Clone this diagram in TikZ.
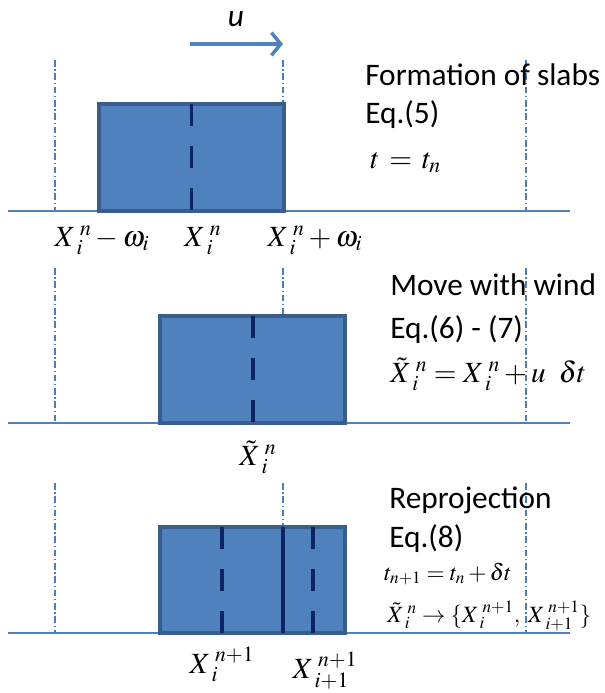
\documentclass[tikz,border=0pt]{standalone}
\usepackage{mathptmx}
\usepackage[no-math]{fontspec}
\setmainfont{Carlito}
\usetikzlibrary{arrows.meta}
\definecolor{boxfill}{HTML}{4F81BD}
\definecolor{boxedge}{HTML}{3A5E8C}
\definecolor{navy}{HTML}{0C2461}
\definecolor{lineblue}{HTML}{4F81BD}
\definecolor{guideblue}{HTML}{4A7EC1}
\newcommand{\Xsc}[3]{#1^{\mkern4mu #2}_{\mkern4mu #3}}
\begin{document}
\begin{tikzpicture}[x=0.75pt,y=-0.75pt,
  slab/.style={draw=boxedge, fill=boxfill, line width=2.6pt},
  midline/.style={draw=navy, line width=2.8pt, dash pattern=on 16.5pt off 15pt},
  midsolid/.style={draw=navy, line width=2.8pt},
  ground/.style={draw=lineblue, line width=1.2pt},
  guide/.style={draw=guideblue, line width=1pt, dash pattern=on 5pt off 2pt on 1pt off 2pt},
  windarrow/.style={draw=lineblue, line width=2.6pt, -{Straight Barb[length=7pt,width=17pt]}},
  txt/.style={anchor=base west, inner sep=0pt, font=\fontsize{23.5}{28}\selectfont},
  lbl/.style={anchor=base, inner sep=0pt, font=\fontsize{22}{26}\selectfont},
  eqn/.style={anchor=base west, inner sep=0pt, font=\fontsize{22}{26}\selectfont},
  eqsmall/.style={anchor=base west, inner sep=0pt, font=\fontsize{17.5}{21}\selectfont},
]
\useasboundingbox (0,0) rectangle (605,693);

% ---------- wind arrow ----------
\node[anchor=base, inner sep=0pt, font=\fontsize{23.5}{28}\selectfont\itshape] (u) at (236,26) {u};
\coordinate (wa) at (190,44);
\coordinate (wb) at (283,44);
\draw[windarrow] (wa) -- (wb);

% ---------- section 1 ----------
\draw[guide] (55,60) -- (55,211);
\draw[guide] (283,60) -- (283,104);
\draw[guide] (526,60) -- (526,211);
\draw[ground] (8,211) -- (570,211);
\draw[slab] (99,104) rectangle (284,211);
\draw[midline] (191.5,104) -- (191.5,211);
\node[lbl] (l1a) at (102,246) {$\Xsc{X}{n}{i}-\omega_{i}$};
\node[lbl] (l1b) at (203,246) {$\Xsc{X}{n}{i}$};
\node[lbl] (l1c) at (315,246) {$\Xsc{X}{n}{i}+\omega_{i}$};
\node[txt] (t1a) at (365,85) {Formation of slabs};
\node[txt] (t1b) at (365,123) {Eq.(5)};
\node[eqn] (t1c) at (370,168) {$t\mkern2mu=\mkern2mu t_{n}$};

% ---------- section 2 ----------
\draw[guide] (55,268) -- (55,423);
\draw[guide] (283,268) -- (283,316);
\draw[guide] (526,268) -- (526,423);
\draw[ground] (8,423) -- (570,423);
\draw[slab] (160,316) rectangle (345,423);
\draw[midline] (253,316) -- (253,423);
\node[lbl] (l2a) at (258,465) {$\Xsc{\tilde{X}}{n}{i}$};
\node[txt] (t2a) at (390,295) {Move with wind};
\node[txt] (t2b) at (390,338) {Eq.(6) - (7)};
\node[eqn] (t2c) at (390,382) {$\Xsc{\tilde{X}}{n}{i}=\Xsc{X}{n}{i}+u\;\;\delta t$};

% ---------- section 3 ----------
\draw[guide] (55,483) -- (55,633);
\draw[guide] (283,483) -- (283,527);
\draw[guide] (526,483) -- (526,633);
\draw[ground] (8,633) -- (570,633);
\draw[slab] (160,527) rectangle (345,633);
\draw[midline] (222,527) -- (222,633);
\draw[midsolid] (283,527) -- (283,633);
\draw[midline] (313,527) -- (313,633);
\node[lbl] (l3a) at (222,673) {$\Xsc{X}{n+1}{i}$};
\node[lbl] (l3b) at (325,678) {$\Xsc{X}{n+1}{i+1}$};
\node[txt] (t3a) at (389,508) {Reprojection};
\node[txt] (t3b) at (389,547) {Eq.(8)};
\node[eqsmall] (t3c) at (384,580) {$t_{n+1}=t_{n}+\delta t$};
\node[eqsmall] (t3d) at (387,622) {$\Xsc{\tilde{X}}{n}{i}\rightarrow\{\Xsc{X}{n+1}{i},\;\Xsc{X}{n+1}{i+1}\}$};
\end{tikzpicture}
\end{document}
